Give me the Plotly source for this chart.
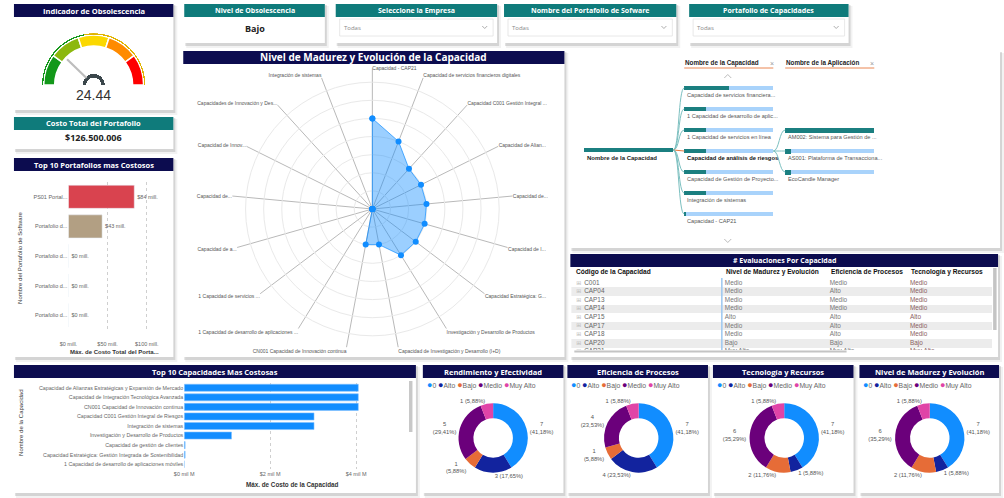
import plotly.graph_objects as go

W, H = 1004, 498
def X(px): return px / W
def Y(py): return 1 - py / H

NAVY = "#0c0c4f"
TEAL = "#0f7b7b"
FONT = "Open Sans"
LFONT = "Liberation Sans"

# ---------------- data ----------------
gauge_value = 24.44
gauge_band_edges = [0, 20, 40, 60, 80, 100]
gauge_band_colors = ["#13981a", "#8cb80e", "#fbd800", "#ff8b00", "#fe0000"]
gauge_tick_values = [0, 20, 40, 60, 80, 100]
gauge_tick_labels = ["0.00", "20.00", "40.00", "60.00", "80.00", "100.00"]
target_edges = [0, 44, 100]
target_colors = ["#13981a", "#e0b400"]

costo_total = "$126.500.006"
nivel_obsolescencia = "Bajo"
filter_titles = ["Seleccione la Empresa", "Nombre del Portafolio de Sofware", "Portafolio de Capacidades"]
filter_values = ["Todas", "Todas", "Todas"]

portafolio_labels = ["PS01 Portal...", "Portafolio d...", "Portafolio d...", "Portafolio d...", "Portafolio d..."]
portafolio_costs = [84, 43, 0, 0, 0]  # millones
portafolio_colors = ["#d9434f", "#b29f83", "#118dff", "#118dff", "#118dff"]
portafolio_ticks = [0, 50, 100]
portafolio_ticktext = ["$0 mill.", "$50 mill.", "$100 mill."]

radar_labels = [
    "Capacidad - CAP21",
    "Capacidad de servicios financieros digitales",
    "Capacidad C001 Gestión Integral ...",
    "Capacidad de Alian...",
    "Capacidad de...",
    "Capacidad de I...",
    "Capacidad Estratégica: G...",
    "Investigación y Desarrollo de Productos",
    "Capacidad de Investigación y Desarrollo (I+D)",
    "CN001 Capacidad de Innovación continua",
    "1 Capacidad de desarrollo de aplicaciones ...",
    "1 Capacidad de servicios ...",
    "Capacidad de a...",
    "Capacidad de...",
    "Capacidad de Innov...",
    "Capacidades de Innovación y Des...",
    "Integración de sistemas",
]
radar_values = [5, 4, 3, 3, 3, 3, 3, 3, 2, 2, 0, 0, 0, 0, 0, 0, 0]

decomp_cap_labels = [
    "Capacidad de servicios financiera...",
    "1 Capacidad de desarrollo de aplic...",
    "1 Capacidad de servicios en línea",
    "Capacidad de análisis de riesgos",
    "Capacidad de Gestión de Proyecto...",
    "Integración de sistemas",
    "Capacidad - CAP21",
]
decomp_cap_share = [0.50, 0.25, 0.25, 0.25, 0.25, 0.25, 0.02]
decomp_app_labels = [
    "AM002: Sistema para Gestión de ...",
    "AS001: Plataforma de Transacciona...",
    "EcoCandle Manager",
]
decomp_app_share = [1.0, 0.07, 0.07]
decomp_selected = 3

table_header = ["Código de la Capacidad", "Nivel de Madurez y Evolución", "Eficiencia de Procesos", "Tecnología y Recursos"]
table_codes = ["C001", "CAP04", "CAP13", "CAP14", "CAP15", "CAP17", "CAP18", "CAP20", "CAP21"]
table_madurez = ["Medio", "Medio", "Medio", "Medio", "Alto", "Medio", "Medio", "Bajo", "Muy Alto"]
table_eficiencia = ["Medio", "Alto", "Medio", "Medio", "Alto", "Alto", "Alto", "Bajo", "Muy Alto"]
table_tecnologia = ["Medio", "Medio", "Medio", "Medio", "Alto", "Medio", "Medio", "Bajo", "Muy Alto"]

cap_labels = [
    "Capacidad de Alianzas Estratégicas y Expansión de Mercado",
    "Capacidad de Integración Tecnológica Avanzada",
    "CN001 Capacidad de Innovación continua",
    "Capacidad C001 Gestión Integral de Riesgos",
    "Integración de sistemas",
    "Investigación y Desarrollo de Productos",
    "Capacidad de gestión de clientes",
    "Capacidad Estratégica: Gestión Integrada de Sostenibilidad",
    "1 Capacidad de desarrollo de aplicaciones móviles",
]
cap_costs = [4.05, 4.05, 4.05, 3.02, 3.02, 1.10, 0.02, 0.02, 0.0]  # mil M
cap_ticks = [0, 2, 4]
cap_ticktext = ["$0 mil M", "$2 mil M", "$4 mil M"]

donut_titles = ["Rendimiento y Efectividad", "Eficiencia de Procesos", "Tecnología y Recursos", "Nivel de Madurez y Evolución"]
donut_categories = ["0", "Alto", "Bajo", "Medio", "Muy Alto"]
donut_colors = ["#118DFF", "#12239E", "#E66C37", "#6B007B", "#E044A7"]
donut_values = [
    [7, 3, 1, 5, 1],
    [7, 4, 1, 4, 1],
    [7, 1, 2, 6, 1],
    [7, 1, 2, 6, 1],
]
donut_label_breaks = [
    [1, 0, 1, 1, 0],
    [1, 0, 1, 1, 0],
    [1, 0, 0, 1, 0],
    [1, 0, 0, 1, 0],
]

# ---------------- helpers ----------------
shapes = []
annotations = []

def rect(x0, y0, x1, y1, fill, line_color=None, lw=0, layer="below"):
    shapes.append(dict(type="rect", xref="paper", yref="paper", x0=X(x0), x1=X(x1), y0=Y(y1), y1=Y(y0),
                       fillcolor=fill, line=dict(width=lw, color=line_color or "rgba(0,0,0,0)"), layer=layer))

def txt(x, y, s, size=7, color="#333", bold=False, xanchor="left", yanchor="middle", family=FONT, angle=0):
    annotations.append(dict(x=X(x), y=Y(y), xref="paper", yref="paper", text=("<b>%s</b>" % s if bold else s),
                            showarrow=False, font=dict(size=size, color=color, family=family),
                            xanchor=xanchor, yanchor=yanchor, textangle=angle, borderpad=0))

def path(d, color, width=1, dash="solid", layer="above"):
    shapes.append(dict(type="path", xref="x3", yref="y3", path=d, line=dict(color=color, width=width, dash=dash),
                       fillcolor="rgba(0,0,0,0)", layer=layer))

# ---------------- panels ----------------
panels = [
    (4, 3, 165, 110, NAVY, "Indicador de Obsolescencia", 7.5),
    (4, 116, 165, 149, TEAL, "Costo Total del Portafolio", 7.5),
    (4, 157, 165, 357, NAVY, "Top 10 Portafolios mas Costosos", 7.5),
    (176, 3, 318, 43, TEAL, "Nivel de Obsolescencia", 7),
    (329, 3, 492, 43, TEAL, filter_titles[0], 7),
    (499, 3, 673, 43, TEAL, filter_titles[1], 7),
    (686, 3, 847, 43, TEAL, filter_titles[2], 7),
    (175, 50, 560, 357, NAVY, "Nivel de Madurez y Evolución de la Capacidad", 10),
    (566, 50, 1000, 248, None, "", 7),
    (566, 253, 998, 357, NAVY, "# Evaluaciones Por Capacidad", 7),
    (4, 364, 410, 493, NAVY, "Top 10 Capacidades Mas Costosas", 7.5),
    (417, 364, 559, 493, NAVY, donut_titles[0], 7.5),
    (563, 364, 705, 493, NAVY, donut_titles[1], 7.5),
    (710, 364, 852, 493, NAVY, donut_titles[2], 7.5),
    (858, 364, 999, 493, NAVY, donut_titles[3], 7.5),
]
for (x0, y0, x1, y1, hc, t, ts) in panels:
    rect(x0 + 2, y0 + 3, x1 + 4, y1 + 5, "rgba(0,0,0,0.05)")
    rect(x0 + 1, y0 + 2, x1 + 2, y1 + 3, "rgba(0,0,0,0.12)")
for (x0, y0, x1, y1, hc, t, ts) in panels:
    rect(x0, y0, x1, y1, "white")
    if hc:
        rect(x0, y0 + 1, x1, y0 + 14, hc)
        txt((x0 + x1) / 2, y0 + 7.5, t, size=ts, color="white", bold=True, xanchor="center")

# cards
txt(84, 137, costo_total, size=9, color="#222", bold=True, xanchor="center")
txt(247, 28, nivel_obsolescencia, size=9, color="#222", bold=True, xanchor="center")
for (x0, y0, x1, y1, hc, t, ts), v in zip(panels[4:7], filter_values):
    rect(x0 + 4, 19, x1 - 4, 36, "white", "#e2e2e2", 0.8)
    txt(x0 + 7, 27.5, v, size=6, color="#888")
    shapes.append(dict(type="path", xref="paper", yref="paper",
                       path="M %f,%f L %f,%f L %f,%f" % (X(x1 - 15), Y(26), X(x1 - 12.5), Y(28.5), X(x1 - 10), Y(26)),
                       line=dict(color="#999", width=0.8)))

# ---------------- figure ----------------
fig = go.Figure()

# Gauge (polar)
g_theta = [(a + b) / 2 * 1.8 for a, b in zip(gauge_band_edges[:-1], gauge_band_edges[1:])]
g_width = [(b - a) * 1.8 for a, b in zip(gauge_band_edges[:-1], gauge_band_edges[1:])]
fig.add_trace(go.Barpolar(r=[0.22] * 5, base=0.78, theta=g_theta, width=g_width,
                          marker=dict(color=gauge_band_colors, line=dict(color="white", width=1.5)),
                          subplot="polar", showlegend=False, hoverinfo="skip"))
t_theta = [(a + b) / 2 * 1.8 for a, b in zip(target_edges[:-1], target_edges[1:])]
t_width = [(b - a) * 1.8 for a, b in zip(target_edges[:-1], target_edges[1:])]
fig.add_trace(go.Barpolar(r=[0.025] * 2, base=1.01, theta=t_theta, width=t_width,
                          marker=dict(color=target_colors, line=dict(width=0)),
                          subplot="polar", showlegend=False, hoverinfo="skip"))
fig.add_trace(go.Barpolar(r=[0.07], base=0.15, theta=[90], width=[180],
                          marker=dict(color="#3b474c", line=dict(width=0)),
                          subplot="polar", showlegend=False, hoverinfo="skip"))
fig.add_trace(go.Scatterpolar(r=[0.2, 0.74], theta=[gauge_value * 1.8] * 2, mode="lines",
                              line=dict(color="#bdbdbd", width=2.2), subplot="polar", showlegend=False,
                              hoverinfo="skip"))
tick_pos = ["middle left", "top left", "top center", "top center", "top right", "middle right"]
fig.add_trace(go.Scatterpolar(r=[1.08] * len(gauge_tick_values), theta=[v * 1.8 for v in gauge_tick_values],
                              mode="text", text=gauge_tick_labels, textposition=tick_pos,
                              textfont=dict(size=5.5, color="#555", family=LFONT), cliponaxis=False,
                              subplot="polar", showlegend=False, hoverinfo="skip"))
txt(84, 95, "%.2f" % gauge_value, size=14, color="#333", xanchor="center", family=LFONT)

# Top 10 Portafolios
fig.add_trace(go.Bar(orientation="h", y=list(range(len(portafolio_costs))), x=portafolio_costs,
                     marker=dict(color=portafolio_colors), width=0.78,
                     text=["$%d mill." % v for v in portafolio_costs], textposition="outside",
                     textfont=dict(size=5.5, color="#666", family=LFONT), cliponaxis=False,
                     xaxis="x", yaxis="y", showlegend=False, hoverinfo="skip"))
txt(106, 352, "Máx. de Costo Total del Porta...", size=6, color="#333", bold=True, xanchor="center", family=LFONT)
txt(10, 258, "Nombre del Portafolio de Software", size=6, color="#333", xanchor="center", family=LFONT, angle=-90)

# Radar
n = len(radar_labels)
R_MAX = 7.76
r_theta = [i * 360 / n for i in range(n)]
fig.add_trace(go.Scatterpolar(r=radar_values + radar_values[:1], theta=r_theta + r_theta[:1],
                              mode="lines+markers", fill="toself", fillcolor="rgba(17,141,255,0.42)",
                              line=dict(color="rgba(17,141,255,0.7)", width=1),
                              marker=dict(color="#118DFF", size=6),
                              subplot="polar2", showlegend=False, hoverinfo="skip"))
fig.add_trace(go.Scatterpolar(r=[R_MAX], theta=[r_theta[0]], mode="text", text=[radar_labels[0]],
                              textposition="middle right", textfont=dict(size=5, color="#555", family=LFONT),
                              cliponaxis=False, subplot="polar2", showlegend=False, hoverinfo="skip"))

# Decomposition tree (canvas axes)
root_y = 150
cap_rows = [88, 109, 130, 151, 172, 193, 214]
app_rows = [130, 151, 172]
cx0, cw = 681, 90
ax0, aw = 783, 90
bar_h = 4.2
fig.add_trace(go.Bar(orientation="h", y=cap_rows, x=[cw] * len(cap_rows), base=cx0, width=bar_h,
                     marker=dict(color="#a9d3fb", line=dict(width=0)), xaxis="x3", yaxis="y3",
                     showlegend=False, hoverinfo="skip"))
fig.add_trace(go.Bar(orientation="h", y=app_rows, x=[aw] * len(app_rows), base=ax0, width=bar_h,
                     marker=dict(color="#a9d3fb", line=dict(width=0)), xaxis="x3", yaxis="y3",
                     showlegend=False, hoverinfo="skip"))
fig.add_trace(go.Bar(orientation="h", y=[root_y], x=[90], base=580, width=bar_h,
                     marker=dict(color="#1b7f80", line=dict(width=0)), xaxis="x3", yaxis="y3",
                     showlegend=False, hoverinfo="skip"))
fig.add_trace(go.Bar(orientation="h", y=cap_rows, x=[s * cw for s in decomp_cap_share], base=cx0, width=bar_h,
                     marker=dict(color="#1b7f80", line=dict(width=0)), xaxis="x3", yaxis="y3",
                     showlegend=False, hoverinfo="skip"))
fig.add_trace(go.Bar(orientation="h", y=app_rows, x=[s * aw for s in decomp_app_share], base=ax0, width=bar_h,
                     marker=dict(color="#1b7f80", line=dict(width=0)), xaxis="x3", yaxis="y3",
                     showlegend=False, hoverinfo="skip"))
txt(582, root_y + 8, "Nombre de la Capacidad", size=6, color="#222", bold=True, family=LFONT)
for i, (yy, lab) in enumerate(zip(cap_rows, decomp_cap_labels)):
    sel = i == decomp_selected
    txt(cx0 + 2, yy + 7, lab, size=5.6 if not sel else 5.8, color="#111" if sel else "#555", bold=sel, family=LFONT)
    if sel:
        path("M 670,%f L 681,%f" % (root_y, yy), "#e8793f", 1.2)
    else:
        path("M 670,%f C 676,%f 675,%f 681,%f" % (root_y, root_y, yy, yy), "#7cc0c0", 1)
for yy, lab in zip(app_rows, decomp_app_labels):
    txt(ax0 + 2, yy + 7, lab, size=5.6, color="#555", family=LFONT)
    sy = cap_rows[decomp_selected]
    path("M 771,%f C 777,%f 777,%f 783,%f" % (sy, sy, yy, yy), "#7cc0c0", 1)
txt(681, 63, "Nombre de la Capacidad", size=6.3, color="#222", bold=True, family=LFONT)
txt(770, 63.5, "×", size=7, color="#999", xanchor="center", family=LFONT)
txt(783, 63, "Nombre de la Aplicación", size=6.3, color="#222", bold=True, family=LFONT)
txt(871, 63.5, "×", size=7, color="#999", xanchor="center", family=LFONT)
path("M 681,68 L 771,68", "#e8793f", 0.9)
path("M 783,68 L 873,68", "#e8793f", 0.9)
path("M 721.5,78 L 725,74.5 L 728.5,78", "#aaa", 0.8)
path("M 721.5,239 L 725,242.5 L 728.5,239", "#aaa", 0.8)

# Table (text traces on a clipped axis covering the table body)
ROW_H = 8.6
row_y = [283 + i * ROW_H for i in range(len(table_codes))]
col_x = [580, 722, 828, 909]
stripe_rows = [y for i, y in enumerate(row_y) if i % 2 == 1]
fig.add_trace(go.Bar(orientation="h", y=stripe_rows, x=[425] * len(stripe_rows), base=567, width=ROW_H,
                     marker=dict(color="#ececec", line=dict(width=0)), xaxis="x4", yaxis="y4",
                     showlegend=False, hoverinfo="skip"))
fig.add_trace(go.Scatter(x=[572] * len(row_y), y=row_y, mode="text", text=["⊞"] * len(row_y),
                         textposition="middle right", textfont=dict(size=6, color="#bbb", family="DejaVu Sans"),
                         xaxis="x4", yaxis="y4", showlegend=False, hoverinfo="skip", cliponaxis=True))
for cx, colvals, colc in zip(col_x, [table_codes, table_madurez, table_eficiencia, table_tecnologia],
                             ["#666", "#777", "#777", "#8a6262"]):
    fig.add_trace(go.Scatter(x=[cx] * len(row_y), y=row_y, mode="text", text=colvals,
                             textposition="middle right", textfont=dict(size=6.4, color=colc, family=LFONT),
                             xaxis="x4", yaxis="y4", showlegend=False, hoverinfo="skip", cliponaxis=True))
for cx, h in zip([571] + col_x[1:], table_header):
    txt(cx, 271.5, h, size=6.6, color="#111", bold=True, family=LFONT)
shapes.append(dict(type="line", xref="paper", yref="paper", x0=X(719), x1=X(719), y0=Y(350), y1=Y(278),
                   line=dict(color="#9cc7f0", width=1.5)))
rect(993, 268, 996.5, 330, "#c4c4c4", layer="above")
rect(570, 350.5, 845, 352.5, "#c4c4c4", layer="above")

# Top 10 Capacidades
fig.add_trace(go.Bar(orientation="h", y=list(range(len(cap_costs))), x=cap_costs, width=0.74,
                     marker=dict(color="#118DFF", line=dict(color="#7fbfff", width=0.6)),
                     xaxis="x2", yaxis="y2", showlegend=False, hoverinfo="skip"))
txt(285, 485, "Máx. de Costo de la Capacidad", size=6.3, color="#333", bold=True, xanchor="center", family=LFONT)
txt(11, 423, "Nombre de la Capacidad", size=6, color="#333", xanchor="center", family=LFONT, angle=-90)
rect(403, 381, 406.5, 432, "#c8c8c8", layer="above")

# Donuts
centers = [488, 635, 782, 929]
for k, (cx, vals, brk) in enumerate(zip(centers, donut_values, donut_label_breaks)):
    tot = sum(vals)
    texts = []
    for v, b in zip(vals, brk):
        pct = ("%.2f" % (100.0 * v / tot)).replace(".", ",")
        texts.append("%d%s(%s%%)" % (v, "<br>" if b else " ", pct))
    fig.add_trace(go.Pie(values=vals, labels=donut_categories, marker=dict(colors=donut_colors, line=dict(width=0)),
                         hole=0.57, sort=False, direction="clockwise", rotation=0,
                         text=texts, textinfo="text", textposition="outside",
                         textfont=dict(size=5.8, color="#555", family=LFONT),
                         domain=dict(x=[X(cx - 35), X(cx + 35)], y=[Y(473), Y(403)]),
                         showlegend=False, hoverinfo="skip"))
    legend = " ".join('<span style="color:%s;font-size:9px">●</span>%s' % (c, lab)
                      for c, lab in zip(donut_colors, donut_categories))
    x0 = panels[11 + k][0]
    txt(x0 + 3, 385, legend, size=6.8, color="#666", family=LFONT)

# ---------------- layout ----------------
fig.update_layout(
    width=W, height=H, margin=dict(l=0, r=0, t=0, b=0), autosize=False,
    paper_bgcolor="white", plot_bgcolor="rgba(0,0,0,0)",
    font=dict(family=LFONT, size=6, color="#555"),
    shapes=shapes, annotations=annotations, bargap=0,
    polar=dict(
        domain=dict(x=[X(32), X(137)], y=[Y(85), Y(33)]),
        sector=[0, 180], bgcolor="rgba(0,0,0,0)",
        radialaxis=dict(range=[0, 1.04], visible=False),
        angularaxis=dict(rotation=180, direction="clockwise", thetaunit="degrees",
                         showticklabels=False, showgrid=False, showline=False, ticks=""),
    ),
    polar2=dict(
        domain=dict(x=[X(224), X(508)], y=[Y(351), Y(67)]),
        bgcolor="rgba(0,0,0,0)",
        radialaxis=dict(range=[0, R_MAX], tickvals=[1, 2, 3, 4, 5, 6, 7], showticklabels=False,
                        gridcolor="#e9e9e9", gridwidth=1, showline=False, ticks=""),
        angularaxis=dict(rotation=90, direction="clockwise", thetaunit="degrees",
                         tickmode="array", tickvals=r_theta, ticktext=[""] + radar_labels[1:],
                         gridcolor="#b9b9b9", gridwidth=1, showline=False, ticks="",
                         tickfont=dict(size=5, color="#555", family=LFONT)),
    ),
    xaxis=dict(domain=[X(59), X(154)], range=[0, 120], tickvals=portafolio_ticks, ticktext=portafolio_ticktext,
               tickfont=dict(size=5.5, color="#666"), showgrid=True, gridcolor="#cfcfcf", griddash="dot",
               zeroline=False, showline=False, anchor="y", ticklabelstandoff=9, fixedrange=True),
    yaxis=dict(domain=[Y(330), Y(182)], range=[4.5, -0.5], tickvals=list(range(len(portafolio_labels))),
               ticktext=portafolio_labels, tickfont=dict(size=5.5, color="#666"), showgrid=False,
               zeroline=False, anchor="x", fixedrange=True),
    xaxis2=dict(domain=[X(176), X(393)], range=[0, 5], tickvals=cap_ticks, ticktext=cap_ticktext,
                tickfont=dict(size=5.5, color="#666"), showgrid=True, gridcolor="#cfcfcf", griddash="dot",
                zeroline=False, showline=False, anchor="y2", fixedrange=True),
    yaxis2=dict(domain=[Y(469), Y(383)], range=[8.5, -0.5], tickvals=list(range(len(cap_labels))),
                ticktext=cap_labels, tickfont=dict(size=5.3, color="#666"), showgrid=False,
                zeroline=False, anchor="x2", fixedrange=True),
    xaxis3=dict(domain=[0, 1], range=[0, W], visible=False, anchor="y3", fixedrange=True),
    yaxis3=dict(domain=[0, 1], range=[H, 0], visible=False, anchor="x3", fixedrange=True),
    xaxis4=dict(domain=[X(567), X(992)], range=[567, 992], visible=False, anchor="y4", fixedrange=True),
    yaxis4=dict(domain=[Y(350), Y(278.7)], range=[350, 278.7], visible=False, anchor="x4", fixedrange=True),
)

post = ("document.documentElement.style.margin='0';document.body.style.margin='0';"
        "document.body.style.padding='0';document.body.style.overflow='hidden';"
        "var d=document.querySelector('.plotly-graph-div');"
        "if(d){d.style.position='absolute';d.style.left='0px';d.style.top='0px';}")
fig.write_html("out.html", config={"displayModeBar": False, "staticPlot": True}, post_script=post)
